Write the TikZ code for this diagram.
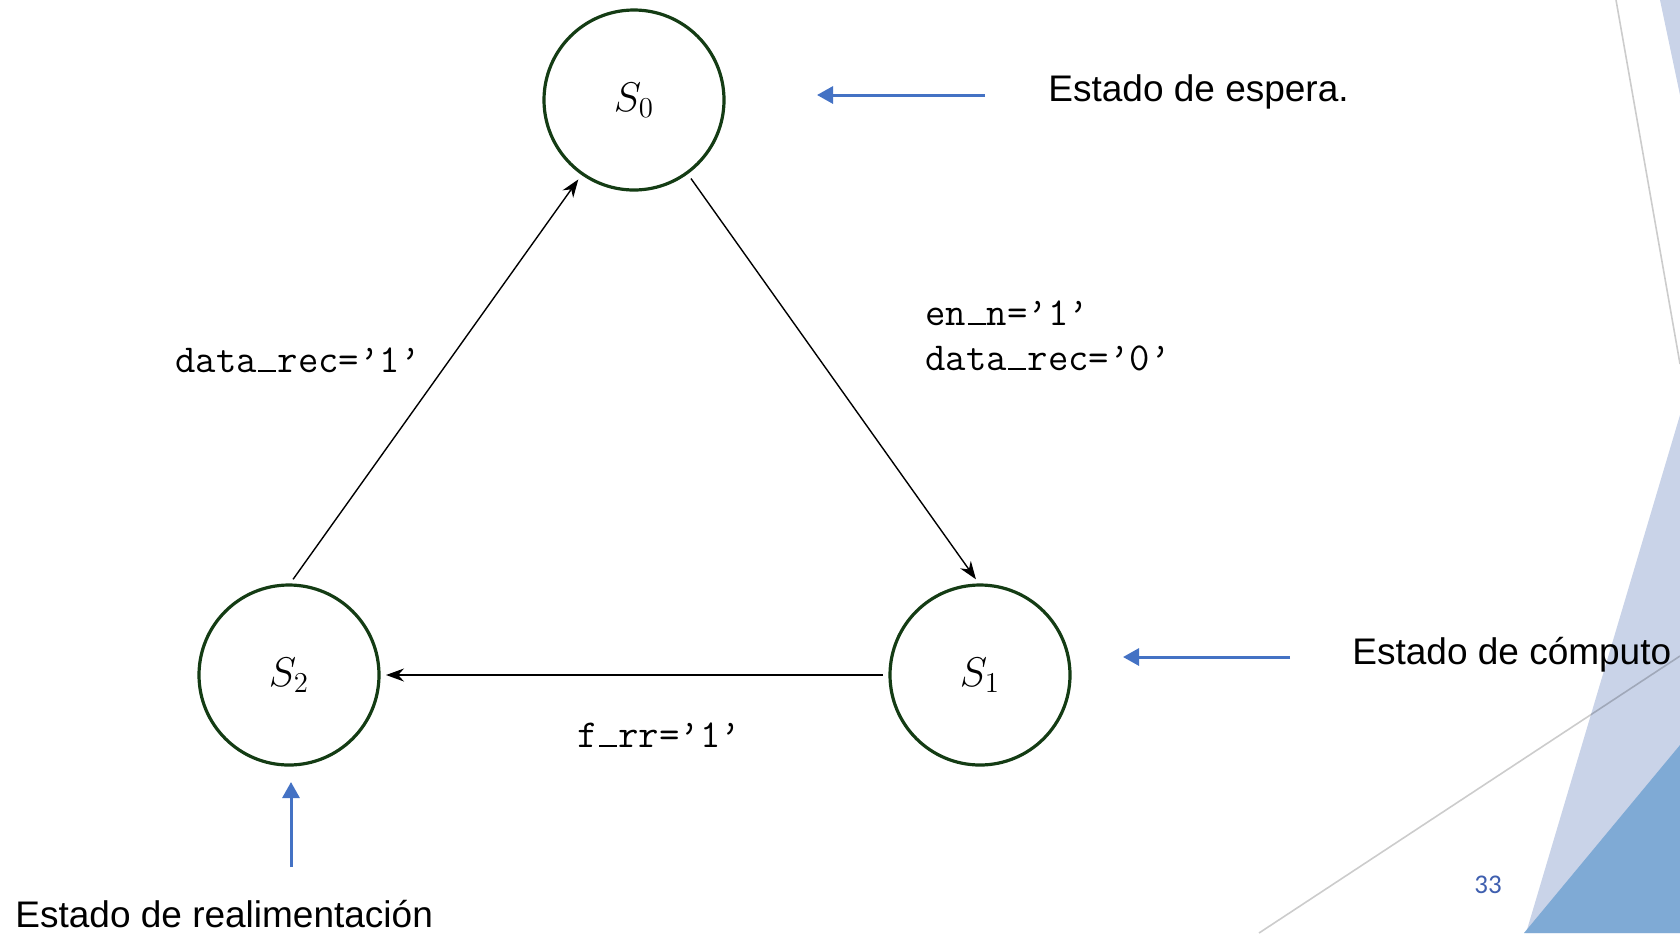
\documentclass[tikz,border=0pt]{standalone}
\usepackage{fontspec}
\newfontfamily\arialfont{Liberation Sans}
\newfontfamily\calfont{Carlito}
\usetikzlibrary{arrows.meta}
\definecolor{stategreen}{RGB}{20,60,20}
\definecolor{pptblue}{RGB}{68,114,196}
\definecolor{lav}{RGB}{201,211,232}
\definecolor{midblue}{RGB}{127,170,213}
\definecolor{numblue}{RGB}{63,95,175}
\newcommand\usc{\makebox[0.525em][c]{\rule[0em]{0.45em}{0.06em}}}
\begin{document}
\begin{tikzpicture}[x=0.5pt,y=-0.5pt,
  state/.style={circle, draw=stategreen, line width=1.6pt, minimum size=90pt, inner sep=0pt, outer sep=0pt, font=\fontsize{20}{24}\selectfont},
  trans/.style={draw=black, line width=0.7pt, -{Stealth[length=9pt,width=6.5pt]}, shorten <=3.5pt, shorten >=3.5pt},
  cond/.style={anchor=base west, inner sep=0pt, font=\fontsize{19.8}{23}\selectfont\ttfamily},
  note/.style={anchor=base west, inner sep=0pt, font=\fontsize{18.5}{22}\selectfont\arialfont},
  pointer/.style={draw=pptblue, line width=1.5pt, -{Triangle[length=8pt,width=8.5pt]}},
  decoline/.style={draw=black, draw opacity=0.2, line width=0.8pt}]
\useasboundingbox (0,0) rectangle (1680,933);
% background decoration
\fill[lav] (1660,0) -- (1680,0) -- (1680,95) -- cycle;
\fill[lav] (1680,415) -- (1680,933) -- (1526,933) -- cycle;
\fill[midblue] (1680,745) -- (1680,933) -- (1524,933) -- cycle;
\draw[decoline] (1616,0) -- (1680,364);
\draw[decoline] (1259,933) -- (1680,656);
\node[font=\fontsize{13.5}{16}\selectfont\calfont, text=numblue, inner sep=0pt] (pg) at (1488,885) {33};
% states
\node[state] (S0) at (634,100) {$S_0$};
\node[state] (S1) at (980,675) {$S_1$};
\node[state] (S2) at (289,675) {$S_2$};
% transitions
\draw[trans] (S0.-54) -- (S1.north);
\draw[trans] (S1.west) -- (S2.east);
\draw[trans] (S2.north) -- (S0.-125.5);
% conditions
\node[cond] (c1) at (175,372) {data\usc rec=’1’};
\node[cond] (c2a) at (925,325) {en\usc n=’1’};
\node[cond] (c2b) at (925,370) {data\usc rec=’0’};
\node[cond] (c3) at (577,747) {f\usc rr=’1’};
% notes
\node[note] (tesp) at (1048,101) {Estado de espera.};
\node[note] (tcomp) at (1352,664) {Estado de cómputo};
\node[note] (treal) at (15,927) {Estado de realimentación};
\coordinate (p0s) at (985,95);
\coordinate (p0e) at (817,95);
\coordinate (p1s) at (1290,657);
\coordinate (p1e) at (1123,657);
\coordinate (p2s) at (291,867);
\coordinate (p2e) at (291,782);
\draw[pointer] (p0s) -- (p0e);
\draw[pointer] (p1s) -- (p1e);
\draw[pointer] (p2s) -- (p2e);
\end{tikzpicture}
\end{document}
